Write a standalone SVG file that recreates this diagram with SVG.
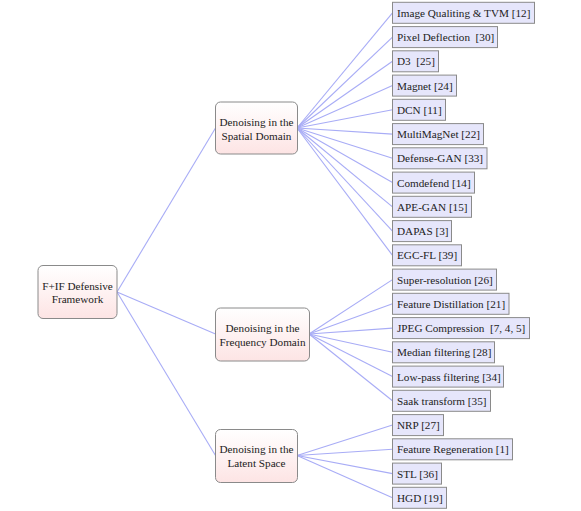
<svg xmlns="http://www.w3.org/2000/svg" width="581" height="511" viewBox="0 0 581 511" font-family="'Liberation Serif', 'DejaVu Serif', serif">
<defs>
<linearGradient id="pg" x1="0" y1="0" x2="0" y2="1">
<stop offset="0" stop-color="#ffffff"/>
<stop offset="1" stop-color="#fde4e4"/>
</linearGradient>
</defs>
<style>
text{font-family:'Liberation Serif','Tinos','DejaVu Serif',serif;font-size:11.2px;fill:#222}
.mid text,.root text{text-anchor:middle}
.mid rect,.root rect{fill:url(#pg);stroke:#8a8a8a;stroke-width:1}
.leaf rect{fill:#e6e6fb;stroke:#8a8a8a;stroke-width:1}
#connectors line{stroke:#a8acf6;stroke-width:1.1}
</style>
<rect width="581" height="511" fill="#ffffff"/>
<g id="connectors">
<line x1="117" y1="292" x2="215.5" y2="128"/>
<line x1="117" y1="292" x2="215.5" y2="334"/>
<line x1="117" y1="292" x2="215.5" y2="455.5"/>
<line x1="297" y1="128" x2="392.5" y2="12.8"/>
<line x1="297" y1="128" x2="392.5" y2="37.1"/>
<line x1="297" y1="128" x2="392.5" y2="61.3"/>
<line x1="297" y1="128" x2="392.5" y2="85.6"/>
<line x1="297" y1="128" x2="392.5" y2="109.8"/>
<line x1="297" y1="128" x2="392.5" y2="134.1"/>
<line x1="297" y1="128" x2="392.5" y2="158.3"/>
<line x1="297" y1="128" x2="392.5" y2="182.6"/>
<line x1="297" y1="128" x2="392.5" y2="206.8"/>
<line x1="297" y1="128" x2="392.5" y2="231.1"/>
<line x1="297" y1="128" x2="392.5" y2="255.3"/>
<line x1="309" y1="334" x2="392.5" y2="279.6"/>
<line x1="309" y1="334" x2="392.5" y2="303.8"/>
<line x1="309" y1="334" x2="392.5" y2="328.1"/>
<line x1="309" y1="334" x2="392.5" y2="352.3"/>
<line x1="309" y1="334" x2="392.5" y2="376.6"/>
<line x1="309" y1="334" x2="392.5" y2="400.8"/>
<line x1="297" y1="455.5" x2="392.5" y2="425.1"/>
<line x1="297" y1="455.5" x2="392.5" y2="449.3"/>
<line x1="297" y1="455.5" x2="392.5" y2="473.6"/>
<line x1="297" y1="455.5" x2="392.5" y2="497.8"/>
</g>
<g id="root" class="root">
<rect x="38" y="265.5" width="79" height="53" rx="5"/>
<text x="77.5" y="289.5">F+IF Defensive</text>
<text x="77.5" y="303">Framework</text>
</g>
<g id="spatial" class="mid">
<rect x="215.5" y="102" width="82" height="52" rx="5"/>
<text x="256.5" y="126">Denoising in the</text>
<text x="256.5" y="139.5">Spatial Domain</text>
</g>
<g id="frequency" class="mid">
<rect x="215.5" y="308" width="94" height="53" rx="5"/>
<text x="262.5" y="332">Denoising in the</text>
<text x="262.5" y="345.5">Frequency Domain</text>
</g>
<g id="latent" class="mid">
<rect x="215.5" y="429.5" width="82" height="53" rx="5"/>
<text x="256.5" y="453">Denoising in the</text>
<text x="256.5" y="466.5">Latent Space</text>
</g>
<g id="l0" class="leaf"><rect x="392.5" y="2.3" width="142" height="21"/><text x="397" y="16.8">Image Qualiting &amp; TVM [12]</text></g>
<g id="l1" class="leaf"><rect x="392.5" y="26.6" width="105" height="21"/><text x="397" y="41.1" xml:space="preserve">Pixel Deflection  [30]</text></g>
<g id="l2" class="leaf"><rect x="392.5" y="50.8" width="46" height="21"/><text x="397" y="65.3" xml:space="preserve">D3  [25]</text></g>
<g id="l3" class="leaf"><rect x="392.5" y="75.1" width="64" height="21"/><text x="397" y="89.6">Magnet [24]</text></g>
<g id="l4" class="leaf"><rect x="392.5" y="99.3" width="53" height="21"/><text x="397" y="113.8">DCN [11]</text></g>
<g id="l5" class="leaf"><rect x="392.5" y="123.6" width="91" height="21"/><text x="397" y="138.1">MultiMagNet [22]</text></g>
<g id="l6" class="leaf"><rect x="392.5" y="147.8" width="94.5" height="21"/><text x="397" y="162.3">Defense-GAN [33]</text></g>
<g id="l7" class="leaf"><rect x="392.5" y="172.1" width="82" height="21"/><text x="397" y="186.6">Comdefend [14]</text></g>
<g id="l8" class="leaf"><rect x="392.5" y="196.3" width="79" height="21"/><text x="397" y="210.8">APE-GAN [15]</text></g>
<g id="l9" class="leaf"><rect x="392.5" y="220.6" width="59" height="21"/><text x="397" y="235.1">DAPAS [3]</text></g>
<g id="l10" class="leaf"><rect x="392.5" y="244.8" width="69" height="21"/><text x="397" y="259.3">EGC-FL [39]</text></g>
<g id="l11" class="leaf"><rect x="392.5" y="269.1" width="104" height="21"/><text x="397" y="283.6">Super-resolution [26]</text></g>
<g id="l12" class="leaf"><rect x="392.5" y="293.3" width="116.5" height="21"/><text x="397" y="307.8">Feature Distillation [21]</text></g>
<g id="l13" class="leaf"><rect x="392.5" y="317.6" width="137" height="21"/><text x="397" y="332.1" xml:space="preserve">JPEG Compression  [7, 4, 5]</text></g>
<g id="l14" class="leaf"><rect x="392.5" y="341.8" width="102" height="21"/><text x="397" y="356.3">Median filtering [28]</text></g>
<g id="l15" class="leaf"><rect x="392.5" y="366.1" width="111" height="21"/><text x="397" y="380.6">Low-pass filtering [34]</text></g>
<g id="l16" class="leaf"><rect x="392.5" y="390.3" width="98" height="21"/><text x="397" y="404.8">Saak transform [35]</text></g>
<g id="l17" class="leaf"><rect x="392.5" y="414.6" width="51" height="21"/><text x="397" y="429.1">NRP [27]</text></g>
<g id="l18" class="leaf"><rect x="392.5" y="438.8" width="120" height="21"/><text x="397" y="453.3">Feature Regeneration [1]</text></g>
<g id="l19" class="leaf"><rect x="392.5" y="463.1" width="49" height="21"/><text x="397" y="477.6">STL [36]</text></g>
<g id="l20" class="leaf"><rect x="392.5" y="487.3" width="54" height="21"/><text x="397" y="501.8">HGD [19]</text></g>
</svg>
